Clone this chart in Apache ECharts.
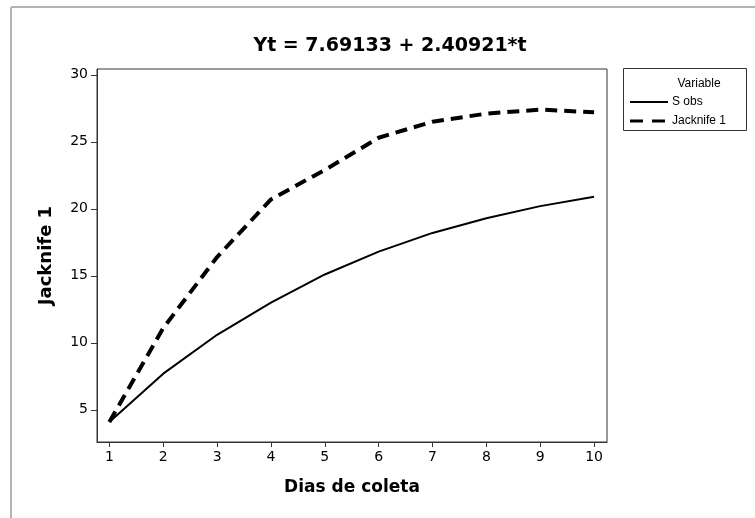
<!DOCTYPE html>
<html>
<head>
<meta charset="utf-8">
<script src="https://cdn.jsdelivr.net/npm/echarts@6/dist/echarts.min.js"></script>
<style>
  html, body { margin: 0; padding: 0; background: #fff; }
  #chart { width: 755px; height: 518px; }
</style>
</head>
<body>
<div id="chart"></div>
<script>
// Collection days and richness estimates
const dias = [1, 2, 3, 4, 5, 6, 7, 8, 9, 10];
const sObs = [4.1, 7.7, 10.6, 13.0, 15.1, 16.8, 18.2, 19.3, 20.2, 20.9];
const jacknife1 = [4.1, 11.1, 16.4, 20.7, 22.9, 25.3, 26.5, 27.1, 27.4, 27.2];

// Tick labels
const xTicks = [1, 2, 3, 4, 5, 6, 7, 8, 9, 10];
const yTicks = [5, 10, 15, 20, 25, 30];

// Legend entries
const legendTitle = 'Variable';
const legendNames = ['S obs', 'Jacknife 1'];

const FONT = '"DejaVu Sans", Verdana, sans-serif';
const LEGEND_FONT = '"Liberation Sans", Arial, sans-serif';

const SOLID = { color: '#000', width: 2 };
const DASHED = { color: '#000', width: 4, type: [12, 7] };

const pairs = (xs, ys) => xs.map((x, i) => [x, ys[i]]);

const chart = echarts.init(document.getElementById('chart'), null, { renderer: 'canvas' });

// legend drawn as a framed key on the right
const legendX = 630, legendLineW = 38, legendTextX = 672;
const legendRows = [102, 121];
const legendGraphics = [
  { type: 'rect', shape: { x: 623.5, y: 68.5, width: 123, height: 62 }, style: { fill: '#fff', stroke: '#333', lineWidth: 1 }, silent: true },
  { type: 'text', x: 699, y: 84, style: { text: legendTitle, font: '12px ' + LEGEND_FONT, fill: '#000', align: 'center', verticalAlign: 'middle' }, silent: true }
];
legendNames.forEach((name, i) => {
  const ls = i === 0 ? SOLID : DASHED;
  legendGraphics.push({
    type: 'line',
    shape: { x1: legendX, y1: legendRows[i], x2: legendX + legendLineW, y2: legendRows[i] },
    style: { stroke: ls.color, lineWidth: i === 0 ? 2 : 3, lineDash: i === 0 ? null : [13, 9] },
    silent: true
  });
  legendGraphics.push({
    type: 'text', x: legendTextX, y: legendRows[i],
    style: { text: name, font: '12px ' + LEGEND_FONT, fill: '#000', align: 'left', verticalAlign: 'middle' },
    silent: true
  });
});

chart.setOption({
  animation: false,
  backgroundColor: '#ffffff',
  textStyle: { fontFamily: FONT },
  title: {
    text: 'Yt = 7.69133 + 2.40921*t',
    left: 385,
    textAlign: 'center',
    top: 32,
    textStyle: { fontFamily: FONT, fontSize: 19, fontWeight: 'bold', color: '#000' }
  },
  grid: {
    left: 97, top: 69, width: 510, height: 373,
    show: true, borderColor: '#333', borderWidth: 1,
    containLabel: false
  },
  xAxis: {
    type: 'value',
    min: 0.77,
    max: 10.24,
    name: 'Dias de coleta',
    nameLocation: 'middle',
    nameGap: 37,
    nameTextStyle: { fontFamily: FONT, fontSize: 17, fontWeight: 'bold', color: '#000' },
    axisLine: { show: true, onZero: false, lineStyle: { color: '#333', width: 1 } },
    axisTick: { show: true, length: 5, customValues: xTicks, lineStyle: { color: '#333' } },
    axisLabel: { customValues: xTicks, fontFamily: FONT, fontSize: 14, color: '#000', margin: 8 },
    splitLine: { show: false }
  },
  yAxis: {
    type: 'value',
    min: 2.6,
    max: 30.43,
    name: 'Jacknife 1',
    nameLocation: 'middle',
    nameGap: 42,
    nameTextStyle: { fontFamily: FONT, fontSize: 18, fontWeight: 'bold', color: '#000' },
    axisLine: { show: true, onZero: false, lineStyle: { color: '#333', width: 1 } },
    axisTick: { show: true, length: 6, customValues: yTicks, lineStyle: { color: '#333' } },
    axisLabel: { customValues: yTicks, fontFamily: FONT, fontSize: 14, color: '#000', margin: 9 },
    splitLine: { show: false }
  },
  series: [
    {
      name: legendNames[0],
      type: 'line',
      data: pairs(dias, sObs),
      showSymbol: false,
      symbol: 'none',
      itemStyle: { color: '#000' },
      lineStyle: SOLID
    },
    {
      name: legendNames[1],
      type: 'line',
      data: pairs(dias, jacknife1),
      showSymbol: false,
      symbol: 'none',
      itemStyle: { color: '#000' },
      lineStyle: DASHED
    }
  ],
  graphic: [
    // outer panel frame
    { type: 'line', shape: { x1: 11, y1: 7, x2: 755, y2: 7 }, style: { stroke: '#b4b4b4', lineWidth: 2 }, silent: true },
    { type: 'line', shape: { x1: 11, y1: 7, x2: 11, y2: 518 }, style: { stroke: '#b4b4b4', lineWidth: 2 }, silent: true }
  ].concat(legendGraphics)
});
</script>
</body>
</html>
